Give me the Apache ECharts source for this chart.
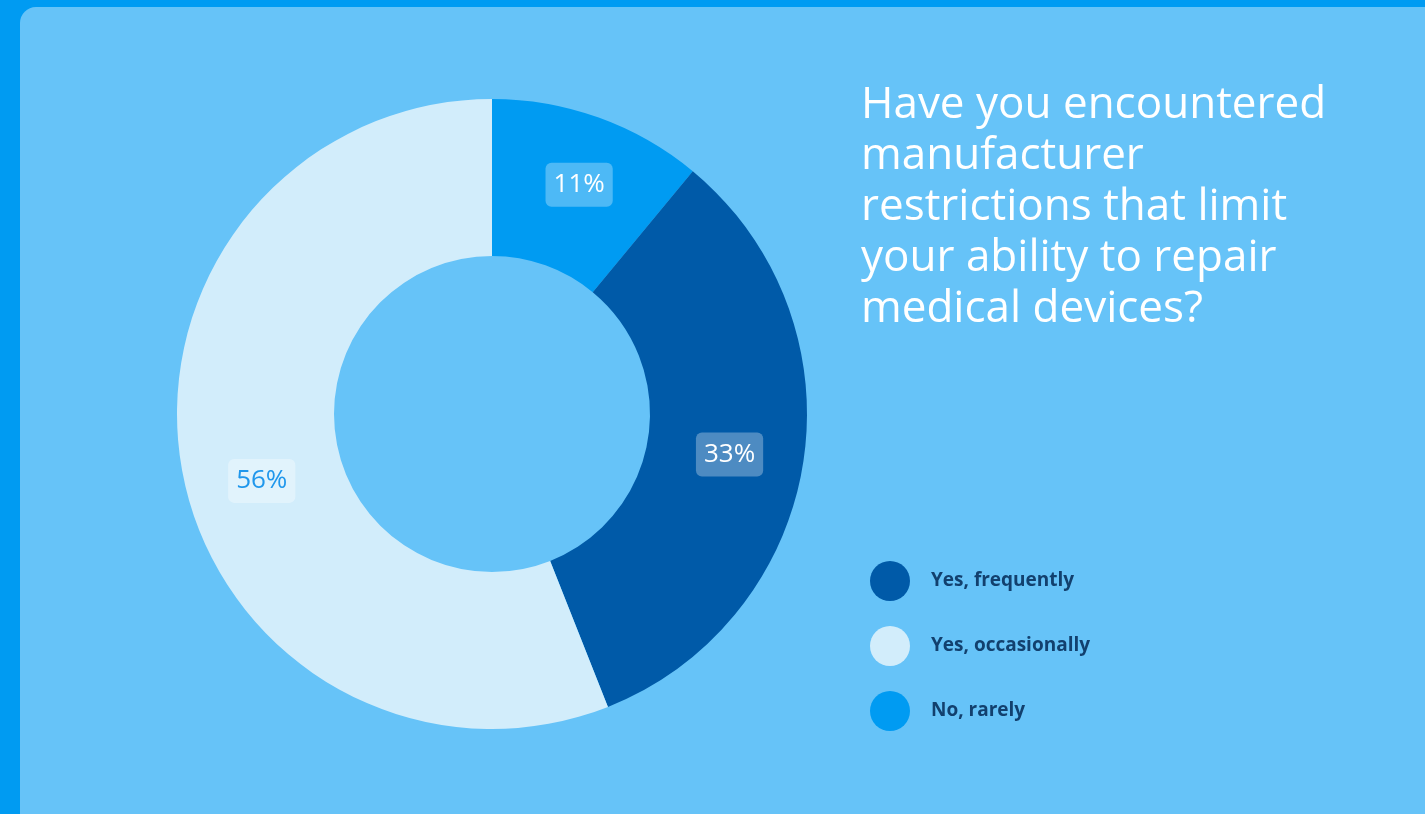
<!DOCTYPE html>
<html>
<head>
<meta charset="utf-8">
<title>Manufacturer restrictions survey</title>
<script src="https://cdn.jsdelivr.net/npm/echarts@6/dist/echarts.min.js"></script>
<style>
  html, body { margin: 0; padding: 0; background: #009bf2; }
  #chart { width: 1425px; height: 814px; }
</style>
</head>
<body>
<div id="chart"></div>
<script>
// Survey answers, in the order the slices are drawn clockwise from 12 o'clock
const answers = ['No, rarely', 'Yes, frequently', 'Yes, occasionally'];
const shares = [11, 33, 56];
const sliceColors = ['#009bf2', '#005aa8', '#d2edfb'];
const labelColors = ['#ffffff', '#ffffff', '#1f97ec'];
// Legend reads in a different order than the slices
const legendOrder = ['Yes, frequently', 'Yes, occasionally', 'No, rarely'];
const titleLines = [
  'Have you encountered',
  'manufacturer',
  'restrictions that limit',
  'your ability to repair',
  'medical devices?'
];

const FONT = '"Open Sans", "Noto Sans", sans-serif';

const pieData = answers.map((name, i) => ({
  name: name,
  value: shares[i],
  itemStyle: { color: sliceColors[i] },
  label: {
    color: labelColors[i],
    backgroundColor: i === 2 ? 'rgba(255,255,255,0.35)' : 'rgba(255,255,255,0.3)',
    offset: i === 2 ? [5, 22] : (i === 0 ? [6, -4] : [1, 3])
  }
}));

const chart = echarts.init(document.getElementById('chart'), null, { renderer: 'canvas' });

chart.setOption({
  backgroundColor: '#009bf2',
  animation: false,
  graphic: [
    {
      type: 'rect',
      z: -10,
      silent: true,
      shape: { x: 20, y: 7, width: 1430, height: 840, r: 16 },
      style: { fill: '#66c3f8' }
    },
    {
      type: 'text',
      left: 861,
      top: 80,
      silent: true,
      style: {
        text: titleLines.join('\n'),
        font: '400 44px ' + FONT,
        lineHeight: 51,
        fill: '#ffffff'
      }
    }
  ],
  legend: {
    orient: 'vertical',
    left: 865,
    top: 556,
    data: legendOrder,
    icon: 'circle',
    itemWidth: 40,
    itemHeight: 40,
    itemGap: 25,
    selectedMode: false,
    textStyle: {
      fontFamily: FONT,
      fontSize: 19,
      fontWeight: 'bold',
      color: '#12406e',
      padding: [0, 0, 0, 16]
    }
  },
  series: [
    {
      type: 'pie',
      center: [492, 414],
      radius: [158, 315],
      startAngle: 90,
      clockwise: true,
      avoidLabelOverlap: false,
      emphasis: { disabled: true },
      label: {
        show: true,
        position: 'inside',
        formatter: '{c}%',
        fontFamily: FONT,
        fontSize: 26,
        padding: [10, 8, 8, 8],
        borderRadius: 6
      },
      labelLine: { show: false },
      data: pieData
    }
  ]
});
</script>
</body>
</html>
